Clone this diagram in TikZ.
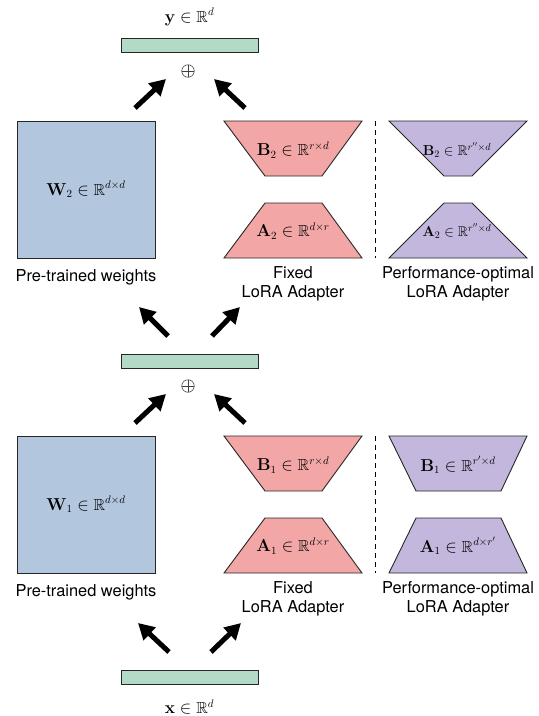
\documentclass[tikz,border=0pt]{standalone}
\usepackage{amssymb}
\usepackage[no-math]{fontspec}
\setmainfont{TeX Gyre Heros}
\usetikzlibrary{arrows.meta}

\definecolor{wblue}{RGB}{178,198,222}
\definecolor{vecgreen}{RGB}{178,218,198}
\definecolor{fixpink}{RGB}{242,167,166}
\definecolor{optpurple}{RGB}{196,183,221}

\begin{document}
\begin{tikzpicture}[x=1pt,y=-1pt,
  caption/.style={font=\fontsize{16.4}{18.5}\selectfont, align=center, inner sep=0pt},
  mth/.style={font=\fontsize{16}{18}\selectfont, inner sep=0pt},
  mthsmall/.style={font=\fontsize{14}{16}\selectfont, inner sep=0pt},
  outline/.style={draw=black!85, line width=0.9pt},
  vecbar/.style={outline, fill=vecgreen, minimum width=137pt, minimum height=14pt, inner sep=0pt},
  wbox/.style={outline, fill=wblue, minimum width=138pt, minimum height=137pt, inner sep=0pt,
               font=\fontsize{16}{18}\selectfont},
  fatarrow/.style={line width=5pt, -{Triangle[length=16pt,width=17pt]}},
  plus/.style={circle, draw=black!75, line width=0.6pt, minimum size=12.5pt, inner sep=0pt,
    path picture={\draw[black!75, line width=0.6pt]
      (path picture bounding box.north) -- (path picture bounding box.south)
      (path picture bounding box.west) -- (path picture bounding box.east);}}
]
\useasboundingbox (0,0) rectangle (539,716);

% ---------- output vector ----------
\node[mth] (ylab) at (189.5,17) {$\mathbf{y}\in\mathbb{R}^d$};
\node[vecbar] (ybar) at (189.5,45) {};
\node[plus] (sum2) at (188,71) {};

% ---------- layer 2 ----------
\node[wbox] (W2) at (86,189.5) {$\mathbf{W}_2\in\mathbb{R}^{d\times d}$};
\node[caption] (W2cap) at (86,277) {Pre-trained weights};

\fill[fixpink] (224,121) -- (362,121) -- (322,176) -- (265,176) -- cycle;
\draw[outline] (224,121) -- (362,121) -- (322,176) -- (265,176) -- cycle;
\node[mth] (B2f) at (293,150) {$\mathbf{B}_2\in\mathbb{R}^{r\times d}$};
\fill[fixpink] (265,203) -- (322,203) -- (362,258) -- (224,258) -- cycle;
\draw[outline] (265,203) -- (322,203) -- (362,258) -- (224,258) -- cycle;
\node[mth] (A2f) at (293,231) {$\mathbf{A}_2\in\mathbb{R}^{d\times r}$};
\node[caption] (fix2cap) at (293,284) {Fixed\\LoRA Adapter};

\draw[dashed, line width=0.9pt, dash pattern=on 5pt off 4pt] (375,121) -- (375,258);

\fill[optpurple] (389,121) -- (527,121) -- (472,176) -- (444,176) -- cycle;
\draw[outline] (389,121) -- (527,121) -- (472,176) -- (444,176) -- cycle;
\node[mthsmall] (B2p) at (457,150) {$\mathbf{B}_2\in\mathbb{R}^{r''\times d}$};
\fill[optpurple] (444,203) -- (472,203) -- (527,258) -- (389,258) -- cycle;
\draw[outline] (444,203) -- (472,203) -- (527,258) -- (389,258) -- cycle;
\node[mthsmall] (A2p) at (457,231) {$\mathbf{A}_2\in\mathbb{R}^{r''\times d}$};
\node[caption] (opt2cap) at (458,284) {Performance-optimal\\LoRA Adapter};

% arrows into the upper sum
\coordinate (a2ls) at (135,108); \coordinate (a2le) at (166,79);
\coordinate (a2rs) at (245,108); \coordinate (a2re) at (214,79);
\draw[fatarrow] (a2ls) -- (a2le);
\draw[fatarrow] (a2rs) -- (a2re);

% arrows from the hidden vector into layer 2
\coordinate (h2ls) at (168,336); \coordinate (h2le) at (139,307);
\coordinate (h2rs) at (212,336); \coordinate (h2re) at (240,307);
\draw[fatarrow] (h2ls) -- (h2le);
\draw[fatarrow] (h2rs) -- (h2re);

% ---------- hidden vector ----------
\node[vecbar] (hbar) at (189.5,361) {};
\node[plus] (sum1) at (188,386) {};

% ---------- layer 1 ----------
\begin{scope}[shift={(0,315)}]
\node[wbox] (W1) at (86,189.5) {$\mathbf{W}_1\in\mathbb{R}^{d\times d}$};
\node[caption] (W1cap) at (86,277) {Pre-trained weights};

\fill[fixpink] (224,121) -- (362,121) -- (322,176) -- (265,176) -- cycle;
\draw[outline] (224,121) -- (362,121) -- (322,176) -- (265,176) -- cycle;
\node[mth] (B1f) at (293,150) {$\mathbf{B}_1\in\mathbb{R}^{r\times d}$};
\fill[fixpink] (265,203) -- (322,203) -- (362,258) -- (224,258) -- cycle;
\draw[outline] (265,203) -- (322,203) -- (362,258) -- (224,258) -- cycle;
\node[mth] (A1f) at (293,231) {$\mathbf{A}_1\in\mathbb{R}^{d\times r}$};
\node[caption] (fix1cap) at (293,284) {Fixed\\LoRA Adapter};

\draw[dashed, line width=0.9pt, dash pattern=on 5pt off 4pt] (375,121) -- (375,258);

\fill[optpurple] (389,121) -- (527,121) -- (501,176) -- (416,176) -- cycle;
\draw[outline] (389,121) -- (527,121) -- (501,176) -- (416,176) -- cycle;
\node[mth] (B1p) at (458,150) {$\mathbf{B}_1\in\mathbb{R}^{r'\times d}$};
\fill[optpurple] (416,203) -- (501,203) -- (527,258) -- (389,258) -- cycle;
\draw[outline] (416,203) -- (501,203) -- (527,258) -- (389,258) -- cycle;
\node[mth] (A1p) at (458,231) {$\mathbf{A}_1\in\mathbb{R}^{d\times r'}$};
\node[caption] (opt1cap) at (458,284) {Performance-optimal\\LoRA Adapter};

% arrows into the lower sum
\coordinate (a1ls) at (135,108); \coordinate (a1le) at (166,79);
\coordinate (a1rs) at (245,108); \coordinate (a1re) at (214,79);
\draw[fatarrow] (a1ls) -- (a1le);
\draw[fatarrow] (a1rs) -- (a1re);
\end{scope}

% arrows from the input vector into layer 1
\coordinate (x1ls) at (169,652); \coordinate (x1le) at (138,623);
\coordinate (x1rs) at (211,652); \coordinate (x1re) at (241,623);
\draw[fatarrow] (x1ls) -- (x1le);
\draw[fatarrow] (x1rs) -- (x1re);

% ---------- input vector ----------
\node[vecbar] (xbar) at (189.5,677.5) {};
\node[mth] (xlab) at (189.5,707) {$\mathbf{x}\in\mathbb{R}^d$};
\end{tikzpicture}
\end{document}
